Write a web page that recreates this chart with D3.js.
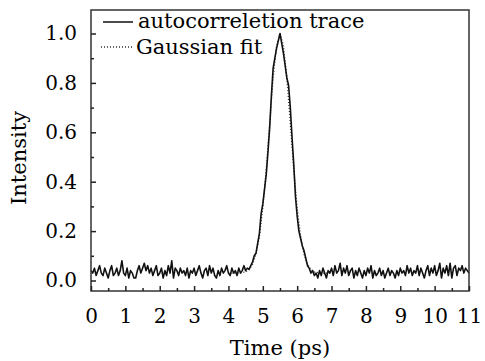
<!DOCTYPE html>
<html>
<head>
<meta charset="utf-8">
<script src="https://cdn.jsdelivr.net/npm/d3@7"></script>
<style>
  body { margin: 0; background: #fff; }
  text { font-family: "DejaVu Serif", serif; fill: #000; }
</style>
</head>
<body>
<svg id="canvas"></svg>
<script>
// sampled autocorrelation trace, 0.05 ps step from 0 to 11 ps
const step = 0.05;
const traceValues = [
  // 0.00 - 0.95
  0.04,0.03,0.05,0.02,0.04,0.06,0.03,0.02,0.05,0.03,0.01,0.04,0.06,0.02,0.03,0.05,0.02,0.04,0.08,0.03,
  // 1.00 - 1.95
  0.02,0.05,0.01,0.04,0.03,0.01,0.01,0.04,0.06,0.03,0.05,0.07,0.04,0.06,0.03,0.05,0.02,0.04,0.06,0.02,
  // 2.00 - 2.95
  0.03,0.05,0.01,0.04,0.02,0.06,0.03,0.08,0.01,0.05,0.04,0.02,0.05,0.03,0.04,0.02,0.05,0.01,0.04,0.03,
  // 3.00 - 3.95
  0.05,0.02,0.04,0.06,0.03,0.01,0.04,0.05,0.02,0.06,0.03,0.05,0.02,0.01,0.04,0.02,0.05,0.03,0.04,0.06,
  // 4.00 - 4.45
  0.03,0.02,0.05,0.03,0.04,0.02,0.05,0.03,0.04,0.06,
  // 4.50 - 6.40 pulse
  0.04,0.05,0.045,0.06,0.075,0.10,0.11,0.15,0.19,0.27,
  0.31,0.37,0.43,0.52,0.62,0.75,0.86,0.90,0.94,0.97,
  1.00,0.96,0.92,0.87,0.82,0.79,0.70,0.58,0.47,0.34,
  0.26,0.20,0.17,0.14,0.12,0.09,0.06,0.05,0.03,
  // 6.45 - 6.95
  0.04,0.02,0.03,0.01,0.04,0.02,0.05,0.03,0.01,0.04,0.03,
  // 7.00 - 7.95
  0.05,0.02,0.06,0.03,0.04,0.07,0.02,0.05,0.03,0.06,0.02,0.04,0.05,0.01,0.04,0.02,0.05,0.03,0.01,0.04,
  // 8.00 - 8.95
  0.02,0.05,0.03,0.06,0.01,0.04,0.02,0.03,0.05,0.02,0.04,0.01,0.03,0.05,0.02,0.04,0.03,0.01,0.04,0.02,
  // 9.00 - 9.95
  0.05,0.03,0.04,0.02,0.06,0.03,0.05,0.02,0.04,0.03,0.06,0.02,0.05,0.03,0.01,0.04,0.06,0.02,0.05,0.03,
  // 10.00 - 11.00
  0.06,0.02,0.04,0.07,0.01,0.05,0.03,0.06,0.02,0.07,0.01,0.05,0.06,0.02,0.05,0.04,0.06,0.03,0.05,0.04,0.03
];

// gaussian fit
const fitTimes = [4.0,4.1,4.2,4.3,4.4,4.5,4.6,4.7,4.8,4.9,5.0,5.1,5.2,5.3,5.4,5.5,
                  5.6,5.7,5.8,5.9,6.0,6.1,6.2,6.3,6.4,6.5,6.6,6.7,6.8,6.9,7.0];
const fitValues = [0.030,0.030,0.030,0.030,0.032,0.035,0.044,0.065,0.106,0.179,0.294,0.452,0.637,0.818,0.951,1.000,
                   0.951,0.818,0.637,0.452,0.294,0.179,0.106,0.065,0.044,0.035,0.032,0.030,0.030,0.030,0.030];

const xTicks = [0,1,2,3,4,5,6,7,8,9,10,11];
const yTicks = [0.0,0.2,0.4,0.6,0.8,1.0];
const legendLabels = ["autocorreletion trace", "Gaussian fit"];

const width = 485;
const height = 361;
const plotLeft = 91, plotRight = 469, plotTop = 10, plotBottom = 291;

const svg = d3.select("#canvas")
    .attr("width", width)
    .attr("height", height);

const xScale = d3.scaleLinear().domain([0, 11]).range([plotLeft, plotRight]);
const yScale = d3.scaleLinear().domain([0, 1]).range([280.5, 33.5]);

const trace = traceValues.map((v, i) => ({t: i * step, v: v}));
const fit = fitTimes.map((t, i) => ({t: t, v: fitValues[i]}));

const line = d3.line()
    .x(d => xScale(d.t))
    .y(d => yScale(d.v));

// dotted fit first, trace drawn over it
svg.append("path")
    .datum(fit)
    .attr("d", line)
    .attr("fill", "none")
    .attr("stroke", "#333")
    .attr("stroke-width", 1.3)
    .attr("stroke-dasharray", "1,2");

svg.append("path")
    .datum(trace)
    .attr("d", line)
    .attr("fill", "none")
    .attr("stroke", "#111")
    .attr("stroke-width", 1.6)
    .attr("stroke-linejoin", "round");

// frame
svg.append("rect")
    .attr("x", plotLeft)
    .attr("y", plotTop)
    .attr("width", plotRight - plotLeft)
    .attr("height", plotBottom - plotTop)
    .attr("fill", "none")
    .attr("stroke", "#333")
    .attr("stroke-width", 1.5);

// x axis: inward ticks, minor every 0.5
const xMinor = d3.range(0.5, 11, 1);
const xAxis = d3.axisBottom(xScale).tickValues(xTicks).tickSize(-5).tickPadding(18).tickFormat(d3.format("d"));
const gx = svg.append("g")
    .attr("transform", `translate(0, ${plotBottom})`)
    .call(xAxis);
gx.select(".domain").remove();
gx.selectAll("line").attr("stroke", "#222").attr("stroke-width", 1.5);
gx.selectAll("text").style("font-size", "20px").attr("fill", "#000");
svg.append("g")
    .attr("transform", `translate(0, ${plotBottom})`)
    .call(d3.axisBottom(xScale).tickValues(xMinor).tickSize(-3).tickFormat(""))
    .call(g => g.select(".domain").remove())
    .selectAll("line").attr("stroke", "#222").attr("stroke-width", 1.5);

// y axis
const yMinor = [0.1,0.3,0.5,0.7,0.9];
const yAxis = d3.axisLeft(yScale).tickValues(yTicks).tickSize(-5).tickPadding(14).tickFormat(d3.format(".1f"));
const gy = svg.append("g")
    .attr("transform", `translate(${plotLeft}, 0)`)
    .call(yAxis);
gy.select(".domain").remove();
gy.selectAll("line").attr("stroke", "#222").attr("stroke-width", 1.5);
gy.selectAll("text").style("font-size", "20px").attr("fill", "#000");
svg.append("g")
    .attr("transform", `translate(${plotLeft}, 0)`)
    .call(d3.axisLeft(yScale).tickValues(yMinor).tickSize(-3).tickFormat(""))
    .call(g => g.select(".domain").remove())
    .selectAll("line").attr("stroke", "#222").attr("stroke-width", 1.5);

// axis titles
svg.append("text")
    .attr("x", (plotLeft + plotRight) / 2)
    .attr("y", 355)
    .attr("text-anchor", "middle")
    .style("font-size", "21px")
    .text("Time (ps)");

svg.append("text")
    .attr("transform", "translate(26, 158) rotate(-90)")
    .attr("text-anchor", "middle")
    .style("font-size", "21px")
    .text("Intensity");

// legend
const legend = svg.append("g");
legend.append("line")
    .attr("x1", 103).attr("x2", 133).attr("y1", 22).attr("y2", 22)
    .attr("stroke", "#111").attr("stroke-width", 1.5);
legend.append("line")
    .attr("x1", 101).attr("x2", 134).attr("y1", 47).attr("y2", 47)
    .attr("stroke", "#333").attr("stroke-width", 1.3).attr("stroke-dasharray", "1,2");
legend.selectAll("text.lbl")
    .data(legendLabels)
    .enter()
    .append("text")
    .attr("class", "lbl")
    .attr("x", (d, i) => i === 0 ? 138 : 136)
    .attr("y", (d, i) => i === 0 ? 28 : 54)
    .style("font-size", "21px")
    .text(d => d);
</script>
</body>
</html>
